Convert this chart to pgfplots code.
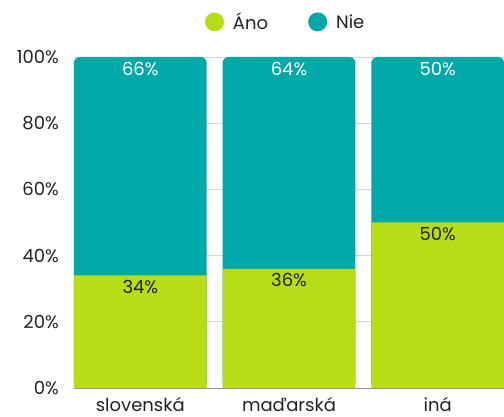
\documentclass[border=0pt]{standalone}
\usepackage{pgfplots}
\usepackage{pgfplotstable}
\pgfplotsset{compat=1.18}
\usepackage{fontspec}
\setmainfont{Poppins}
\definecolor{ano}{HTML}{B8DC16}
\definecolor{nie}{HTML}{00A8A8}
\definecolor{gridc}{HTML}{D6D6D6}
\definecolor{txt}{HTML}{222222}

\pgfplotstableread{
x ano nie
0 34 66
1 36 64
2 50 50
}\datatable

\begin{document}
\begin{tikzpicture}
\begin{axis}[
  at={(0,0)}, anchor=south west,
  scale only axis, width=430bp, height=331bp,
  xmin=-0.446, xmax=2.446, ymin=0, ymax=100,
  ybar, bar width=0.893,
  xtick={0,1,2}, xticklabels={slovenská,maďarská,iná},
  ytick={0,20,...,100},
  yticklabel={\pgfmathprintnumber{\tick}\%},
  /pgf/number format/assume math mode=true,
  ymajorgrids, grid style={gridc, line width=0.8pt},
  axis x line*=bottom, axis y line*=left,
  y axis line style={draw=none},
  x axis line style={draw=gray!80, line width=0.8pt, -},
  major tick length=0pt,
  tick label style={font=\fontsize{18bp}{21bp}\selectfont, text=txt},
  yticklabel style={anchor=east, inner sep=0pt, xshift=-15bp},
  xticklabel style={anchor=base, inner sep=0pt, yshift=-23bp},
  legend style={at={(0.49,1.106)}, anchor=center, draw=none, fill=none,
    legend columns=2, font=\fontsize{18bp}{21bp}\selectfont, text=txt,
    nodes={inner xsep=0pt},
    /tikz/every even column/.append style={column sep=40bp}},
  legend image code/.code={\fill[#1] (9.5bp,0bp) circle (9.5bp);
    \path (28bp,0bp);},
]
\addlegendimage{fill=ano, draw=none}
\addlegendentry{Áno}
\addlegendimage{fill=nie, draw=none}
\addlegendentry{Nie}
% Nie drawn as the full bar (Ano + Nie) with rounded top, Ano over it
\addplot[fill=nie, draw=none, bar shift=0pt, rounded corners=6bp,
  nodes near coords={\pgfmathprintnumber{\pgfplotspointmeta}\%},
  point meta=explicit,
  every node near coord/.style={anchor=base, yshift=-19bp, text=white,
    font=\fontsize{18bp}{21bp}\selectfont}]
  table[x=x, y expr=\thisrow{ano}+\thisrow{nie}, meta=nie] {\datatable};
\addplot[fill=ano, draw=none, bar shift=0pt,
  nodes near coords={\pgfmathprintnumber{\pgfplotspointmeta}\%},
  point meta=explicit,
  every node near coord/.style={anchor=base, yshift=-18bp, text=txt,
    font=\fontsize{18bp}{21bp}\selectfont}]
  table[x=x, y=ano, meta=ano] {\datatable};
\end{axis}
\pgfresetboundingbox
\path[use as bounding box] (-74bp,-29bp) rectangle (430bp,388bp);
\end{tikzpicture}
\end{document}
